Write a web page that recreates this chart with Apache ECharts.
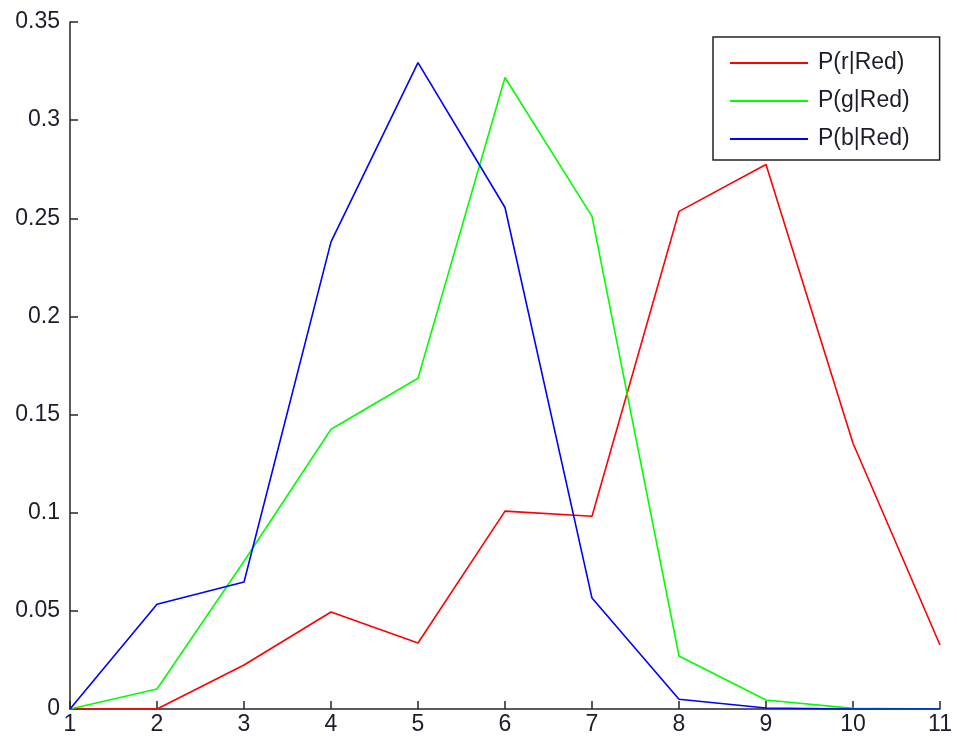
<!DOCTYPE html>
<html>
<head>
<meta charset="utf-8">
<script src="https://cdn.jsdelivr.net/npm/echarts@6/dist/echarts.min.js"></script>
<style>
html,body{margin:0;padding:0;background:#fff;}
#chart{width:957px;height:745px;}
</style>
</head>
<body>
<div id="chart"></div>
<script>
const xValues = [1, 2, 3, 4, 5, 6, 7, 8, 9, 10, 11];
const seriesNames = ['P(r|Red)', 'P(g|Red)', 'P(b|Red)'];
const redValues   = [0, 0, 0.0224, 0.0494, 0.0336, 0.1008, 0.0982, 0.2535, 0.2774, 0.1354, 0.0326];
const greenValues = [0, 0.0102, 0.0753, 0.1425, 0.1685, 0.3217, 0.2510, 0.0270, 0.0046, 0.0003, 0];
const blueValues  = [0, 0.0534, 0.0647, 0.2380, 0.3293, 0.2555, 0.0565, 0.0050, 0.0005, 0, 0];
const seriesColors = ['#ff0000', '#00ff00', '#0000ff'];

const allValues = [redValues, greenValues, blueValues];
const chart = echarts.init(document.getElementById('chart'), null, {renderer: 'canvas'});
const fontFam = '"Liberation Sans", Arial, sans-serif';

const option = {
  animation: false,
  backgroundColor: '#ffffff',
  grid: {left: 70, right: 17, top: 22, bottom: 36, containLabel: false},
  xAxis: {
    type: 'value', min: 1, max: 11, interval: 1,
    axisLine: {show: true, onZero: false, lineStyle: {color: '#262626', width: 1.5}},
    axisTick: {show: true, inside: true, length: 8, lineStyle: {color: '#262626', width: 1.5}},
    axisLabel: {color: '#1c1c2c', fontSize: 23, fontFamily: fontFam, margin: 4},
    splitLine: {show: false}
  },
  yAxis: {
    type: 'value', min: 0, max: 0.35, interval: 0.05,
    axisLine: {show: true, lineStyle: {color: '#262626', width: 1.5}},
    axisTick: {show: true, inside: true, length: 8, lineStyle: {color: '#262626', width: 1.5}},
    axisLabel: {color: '#1c1c2c', fontSize: 23, fontFamily: fontFam, margin: 10,
      formatter: v => String(Math.round(v * 100) / 100)},
    splitLine: {show: false}
  },
  legend: {
    orient: 'vertical',
    left: 713, top: 37,
    padding: [14, 30, 9, 17],
    icon: 'rect',
    itemWidth: 78, itemHeight: 2, itemGap: 14,
    borderColor: '#222', borderWidth: 1.5,
    backgroundColor: '#fff',
    textStyle: {color: '#1c1c2c', fontSize: 23, lineHeight: 24, fontFamily: fontFam, padding: [0, 0, 0, 5]},
    data: seriesNames
  },
  series: seriesNames.map((name, i) => ({
    name: name,
    type: 'line',
    symbol: 'none',
    color: seriesColors[i],
    itemStyle: {color: seriesColors[i]},
    lineStyle: {color: seriesColors[i], width: 1.6},
    data: xValues.map((x, j) => [x, allValues[i][j]])
  }))
};
chart.setOption(option);
</script>
</body>
</html>
